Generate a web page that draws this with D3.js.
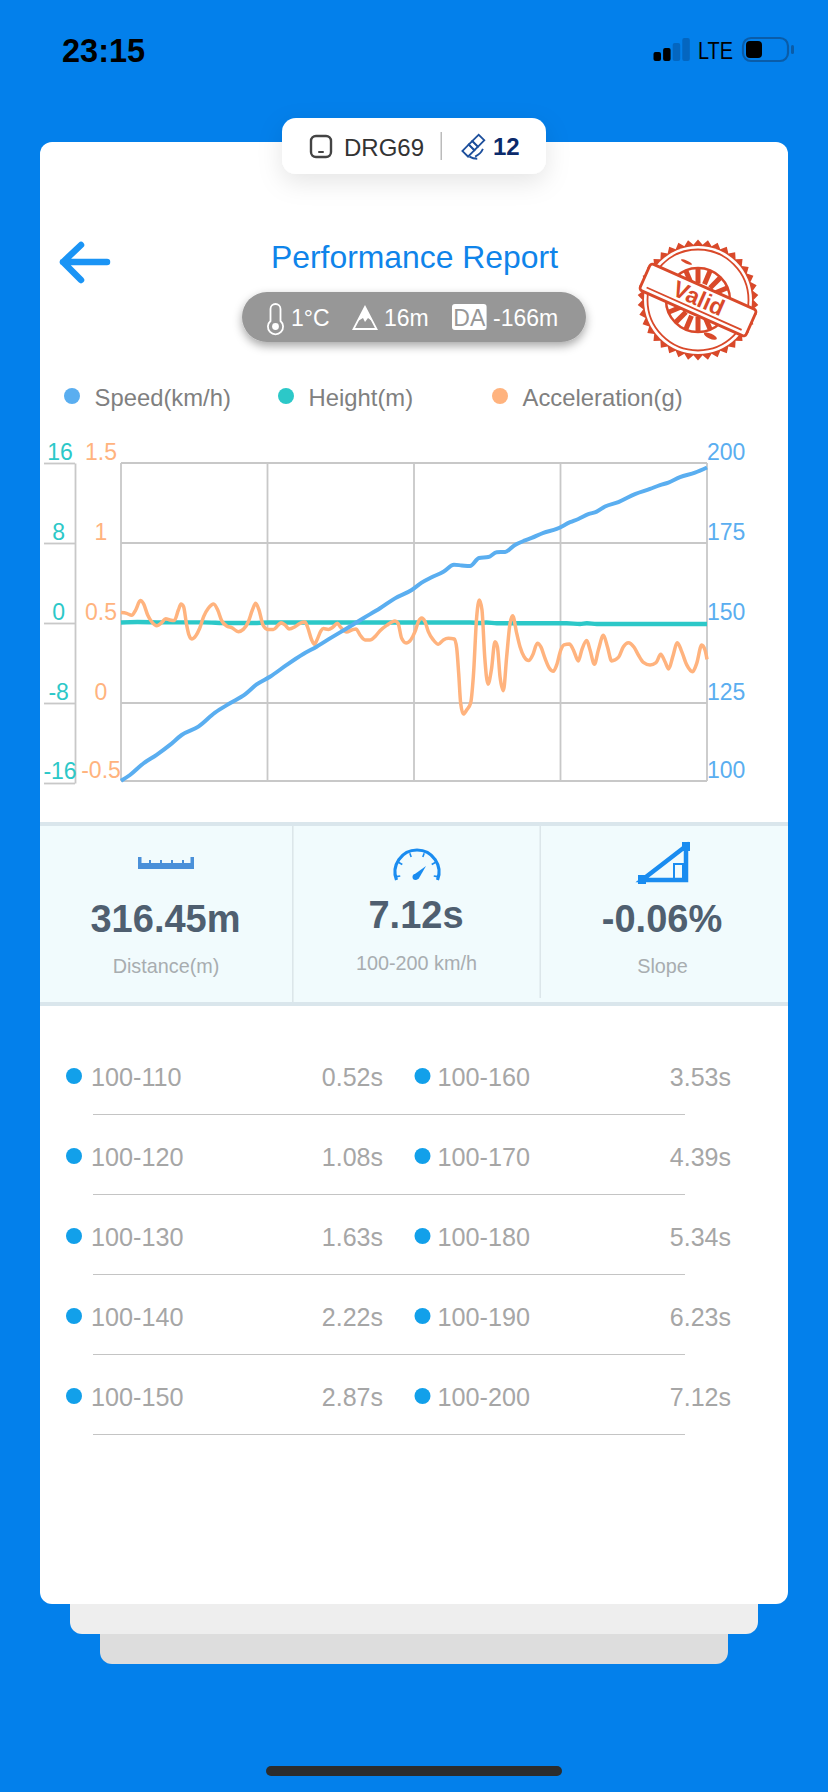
<!DOCTYPE html>
<html>
<head>
<meta charset="utf-8">
<title>Performance Report</title>
<script src="https://cdn.jsdelivr.net/npm/d3@7"></script>
<style>
  html, body { margin: 0; padding: 0; background: #0380eb; }
  svg { display: block; font-family: "Liberation Sans", Arial, sans-serif; }
</style>
</head>
<body>
<svg id="screen" width="828" height="1792"></svg>
<script>
// time (s) against speed (km/h)
const speedTimes = [0, .109, .271, .433, .595, .737, .94, 1.142, 1.324, 1.507, 1.648, 1.81, 2.013, 2.215, 2.377, 2.56, 2.742, 2.944, 3.147, 3.329, 3.532, 3.653, 3.775, 3.917, 4.046, 4.139, 4.241, 4.35, 4.463, 4.565, 4.666, 4.787, 4.909, 4.99, 5.132, 5.294, 5.456, 5.557, 5.678, 5.78, 5.881, 6.043, 6.245, 6.428, 6.549, 6.651, 6.792, 6.974, 7.12];
const speedValues = [100.7, 102.5, 106.1, 108.8, 111.9, 115, 117.6, 122, 124.9, 127.7, 130.8, 133.2, 136.9, 140.3, 142.6, 145.5, 148.3, 151.5, 154.6, 157.7, 160.3, 162.6, 164.3, 166, 168.2, 168, 167.8, 170.3, 170.6, 172.1, 172.2, 174.4, 175.8, 176.6, 178.2, 179.4, 181.5, 182.5, 184, 184.8, 186.4, 187.8, 190.3, 191.9, 193.1, 193.9, 195.6, 197, 198.6];

// time (s) against height (m)
const heightTimes = [0, .2, .5, 1, 1.3, 1.6, 1.8, 4.24, 4.36, 4.44, 4.565, 5.415, 5.577, 5.66, 5.78, 7.12];
const heightValues = [.05, .1, .06, .06, 0, 0, .05, .05, 0, .05, -.03, -.03, -.1, -.03, -.1, -.1];

// time (s) against acceleration (g)
const accelTimes = [0, .069, .13, .178, .235, .275, .324, .373, .437, .494, .543, .595, .648, .697, .729, .761, .794, .826, .859, .907, .956, 1.004, 1.061, 1.126, 1.175, 1.223, 1.284, 1.345, 1.426, 1.486, 1.547, 1.596, 1.636, 1.677, 1.725, 1.782, 1.851, 1.912, 1.944, 1.993, 2.041, 2.114, 2.175, 2.236, 2.268, 2.317, 2.349, 2.381, 2.43, 2.459, 2.519, 2.572, 2.629, 2.669, 2.742, 2.803, 2.855, 2.904, 2.965, 3.026, 3.086, 3.147, 3.228, 3.329, 3.366, 3.41, 3.463, 3.52, 3.572, 3.613, 3.653, 3.694, 3.734, 3.795, 3.856, 3.917, 3.977, 4.05, 4.079, 4.103, 4.127, 4.16, 4.2, 4.249, 4.281, 4.322, 4.354, 4.386, 4.419, 4.459, 4.5, 4.544, 4.573, 4.605, 4.646, 4.686, 4.727, 4.759, 4.808, 4.848, 4.897, 4.954, 5.002, 5.059, 5.1, 5.152, 5.205, 5.253, 5.294, 5.343, 5.383, 5.448, 5.497, 5.557, 5.598, 5.659, 5.699, 5.752, 5.8, 5.861, 5.91, 5.962, 6.043, 6.104, 6.165, 6.234, 6.286, 6.347, 6.428, 6.501, 6.558, 6.61, 6.655, 6.704, 6.76, 6.813, 6.874, 6.946, 6.995, 7.056, 7.096, 7.12];
const accelValues = [.565, .56, .548, .581, .64, .619, .55, .508, .483, .502, .527, .519, .515, .581, .619, .602, .498, .425, .4, .419, .467, .54, .592, .619, .581, .515, .481, .471, .446, .46, .508, .581, .623, .581, .488, .46, .46, .488, .502, .488, .463, .477, .498, .506, .473, .394, .367, .394, .452, .465, .46, .473, .498, .473, .444, .456, .463, .425, .394, .394, .415, .452, .485, .512, .498, .404, .375, .394, .446, .508, .531, .508, .446, .394, .367, .394, .404, .4, .342, .185, -.002, -.069, -.044, .002, .165, .54, .644, .581, .29, .117, .206, .383, .352, .165, .077, .29, .498, .546, .435, .352, .29, .265, .3, .373, .352, .279, .217, .198, .238, .331, .363, .369, .331, .263, .331, .39, .331, .242, .331, .423, .352, .263, .285, .352, .377, .348, .3, .254, .238, .252, .304, .258, .213, .29, .377, .321, .238, .196, .248, .363, .331, .273];

const timeTicks = [0, 1.78, 3.56, 5.34, 7.12];
const speedTicks = [100, 125, 150, 175, 200];
const heightTicks = [-16, -8, 0, 8, 16];
const accelTicks = [-0.5, 0, 0.5, 1, 1.5];

const legendNames = ['Speed(km/h)', 'Height(m)', 'Acceleration(g)'];
const legendColors = ['#5aaef0', '#2cc8c8', '#ffb37e'];

const statValues = ['316.45m', '7.12s', '-0.06%'];
const statLabels = ['Distance(m)', '100-200 km/h', 'Slope'];

const splitNamesLeft = ['100-110', '100-120', '100-130', '100-140', '100-150'];
const splitTimesLeft = ['0.52s', '1.08s', '1.63s', '2.22s', '2.87s'];
const splitNamesRight = ['100-160', '100-170', '100-180', '100-190', '100-200'];
const splitTimesRight = ['3.53s', '4.39s', '5.34s', '6.23s', '7.12s'];

const signalBars = [9, 13, 18, 23];

const svg = d3.select('#screen');
const defs = svg.append('defs');

function shadow(id, dy, blur, opacity) {
  defs.append('filter').attr('id', id)
    .attr('x', '-30%').attr('y', '-50%').attr('width', '160%').attr('height', '260%')
    .append('feDropShadow')
    .attr('dx', 0).attr('dy', dy).attr('stdDeviation', blur)
    .attr('flood-color', '#000').attr('flood-opacity', opacity);
}
shadow('pillShadow', 8, 12, 0.1);
shadow('greyShadow', 4, 5, 0.35);

function box(x0, y0, x1, y1, r, fill) {
  return svg.append('rect')
    .attr('x', x0).attr('y', y0)
    .attr('width', x1 - x0).attr('height', y1 - y0)
    .attr('rx', r).attr('fill', fill);
}

function label(parent, x, y, str, size, fill, anchor, weight) {
  return parent.append('text')
    .attr('x', x).attr('y', y)
    .attr('font-size', size).attr('fill', fill)
    .attr('text-anchor', anchor || 'start')
    .attr('font-weight', weight || 'normal')
    .text(str);
}

// status bar
label(svg, 62, 61.5, '23:15', 32.5, '#000', 'start', 'bold');
svg.selectAll('.signal').data(signalBars).enter().append('rect')
  .attr('class', 'signal')
  .attr('x', (d, i) => 653.5 + i * 9.6).attr('y', d => 61 - d)
  .attr('width', 7.5).attr('height', d => d).attr('rx', 2)
  .attr('fill', (d, i) => i < 2 ? '#000' : '#0466c0');
label(svg, 698, 59, 'LTE', 23, '#000').attr('textLength', 35).attr('lengthAdjust', 'spacingAndGlyphs');
box(743, 38, 788, 61, 8, 'none').attr('stroke', '#0a5ca8').attr('stroke-width', 2.2);
box(746, 41, 762, 58, 4, '#000');
box(791, 45, 794, 54, 1.5, '#0a5ca8');

// stacked cards
box(100, 1600, 728, 1664, 12, '#dddddd');
box(70, 1570, 758, 1634, 12, '#eeeeee');
box(40, 142, 788, 1604, 12, '#fff');
box(266, 1766, 562, 1776, 5, '#2c2c2c');

// device pill
box(282, 118, 546, 174, 14, '#fff').attr('filter', 'url(#pillShadow)');
box(311, 136, 331, 157, 5, 'none').attr('stroke', '#444').attr('stroke-width', 2.4);
box(318, 151, 324, 153, 1, '#444');
label(svg, 344, 156, 'DRG69', 24, '#333');
box(440.5, 132, 442, 160, 0, '#bbb');
const sat = svg.append('g').attr('transform', 'translate(473,146) rotate(45)')
  .attr('fill', 'none').attr('stroke', '#1d4f9c').attr('stroke-width', 1.8);
sat.append('rect').attr('x', -4).attr('y', -12).attr('width', 8).attr('height', 9);
sat.append('rect').attr('x', -4).attr('y', 2).attr('width', 8).attr('height', 9);
sat.append('path').attr('d', 'M-4 -3H4V2H-4Z M9 -5Q11 0 9 6 M5 10Q9 9 12 6');
label(svg, 493, 155, '12', 24, '#0b2a6b', 'start', 'bold');

// header
svg.append('path')
  .attr('d', 'M81 245L63 262L81 280M63 262H107')
  .attr('fill', 'none').attr('stroke', '#1a94f5').attr('stroke-width', 6.5)
  .attr('stroke-linecap', 'round').attr('stroke-linejoin', 'round');
label(svg, 414.5, 268, 'Performance Report', 31.9, '#0f84ea', 'middle');

// conditions pill
box(242, 292, 586, 342, 25, '#979797').attr('filter', 'url(#greyShadow)');
svg.append('path')
  .attr('d', 'M270.5 321V309a5 5 0 0 1 10 0V321a7.6 7.6 0 1 1 -10 0Z')
  .attr('fill', 'none').attr('stroke', '#fff').attr('stroke-width', 1.8);
svg.append('circle').attr('cx', 275.5).attr('cy', 326.5).attr('r', 3.4).attr('fill', '#fff');
label(svg, 291, 326, '1°C', 23, '#fff');
svg.append('path').attr('d', 'M365 307L353.5 329H376.5Z')
  .attr('fill', 'none').attr('stroke', '#fff').attr('stroke-width', 1.8);
svg.append('path').attr('d', 'M365 307L358 321L363 318L365 322L368 318L372 321Z').attr('fill', '#fff');
label(svg, 384, 326, '16m', 23, '#fff');
box(452, 304, 486.6, 330, 3, '#fff');
label(svg, 469.3, 326, 'DA', 23, '#979797', 'middle');
label(svg, 493, 326, '-166m', 23, '#fff');

// stamp
const stampRed = '#d9492a';
const stamp = svg.append('g').attr('transform', 'translate(698,300)');
const teeth = d3.range(76).map(i => [i * Math.PI / 38, i % 2 ? 55.5 : 60.5]);
stamp.append('path')
  .attr('d', d3.lineRadial().curve(d3.curveLinearClosed)(teeth))
  .attr('fill', stampRed);
stamp.append('circle').attr('r', 54).attr('fill', '#fff');
stamp.append('circle').attr('r', 50.5).attr('fill', 'none').attr('stroke', stampRed).attr('stroke-width', 1.8);
stamp.append('circle').attr('r', 32).attr('fill', 'none').attr('stroke', stampRed).attr('stroke-width', 2.5);
stamp.selectAll('.ray').data(d3.range(16)).enter().append('line')
  .attr('class', 'ray')
  .attr('x1', d => 17 * Math.cos(d * Math.PI / 8)).attr('y1', d => 17 * Math.sin(d * Math.PI / 8))
  .attr('x2', d => 32 * Math.cos(d * Math.PI / 8)).attr('y2', d => 32 * Math.sin(d * Math.PI / 8))
  .attr('stroke', stampRed).attr('stroke-width', 5);
const smudges = [[-38, -6, 7, 2.5], [-44, 1, 5, 2], [-30, 12, 6, 2], [38, -10, 8, 2.5], [44, -2, 5, 2], [26, 28, 7, 2.5], [-26, -30, 6, 1.5]];
stamp.selectAll('.smudge').data(smudges).enter().append('ellipse')
  .attr('class', 'smudge')
  .attr('cx', d => d[0]).attr('cy', d => d[1]).attr('rx', d => d[2]).attr('ry', d => d[3])
  .attr('transform', 'rotate(24)').attr('fill', stampRed);
const banner = stamp.append('g').attr('transform', 'rotate(24)');
banner.append('rect').attr('x', -58).attr('y', -14.5).attr('width', 116).attr('height', 29).attr('rx', 3)
  .attr('fill', '#fff').attr('stroke', stampRed).attr('stroke-width', 2.8);
banner.append('line').attr('x1', -52).attr('x2', 52).attr('y1', 9.5).attr('y2', 9.5)
  .attr('stroke', stampRed).attr('stroke-width', 1.8);
label(banner, 0, 6, 'Valid', 23, stampRed, 'middle', 'bold');

// legend
const legendX = [72, 286, 500];
const legend = svg.selectAll('.legend').data(legendNames).enter().append('g')
  .attr('class', 'legend')
  .attr('transform', (d, i) => `translate(${legendX[i]},396)`);
legend.append('circle').attr('r', 8).attr('fill', (d, i) => legendColors[i]);
legend.append('text').attr('x', 22.6).attr('y', 10)
  .attr('font-size', 23.8).attr('fill', '#808080').text(d => d);

// chart
const plotLeft = 121, plotRight = 707, plotTop = 463, plotBottom = 781, gridBottom = 783;
const gridColor = '#c8c8c8';
const axisFontSize = 23;

const x = d3.scaleLinear().domain([0, 7.12]).range([plotLeft, plotRight]);
const speedY = d3.scaleLinear().domain([100, 200]).range([gridBottom, plotTop]);
const heightY = d3.scaleLinear().domain([-16, 16]).range([gridBottom, plotTop]);
const accelY = d3.scaleLinear().domain([-0.5, 1.5]).range([gridBottom, plotTop]);

function styleAxis(g, color) {
  g.selectAll('text')
    .attr('font-family', '"Liberation Sans", Arial, sans-serif')
    .attr('font-size', axisFontSize).attr('fill', color);
  g.attr('font-family', null).attr('font-size', null);
}

// the lowest labels sit on the frame, a little above the scale's own bottom
const liftLabel = (bottomTick, extra) => d => (d === bottomTick ? extra : -10.5);

const grid = svg.append('g').attr('stroke', gridColor).attr('stroke-width', 1.8).attr('fill', 'none');
grid.selectAll('.hgrid').data(speedTicks.slice(1)).enter().append('line')
  .attr('class', 'hgrid')
  .attr('x1', plotLeft).attr('x2', plotRight)
  .attr('y1', d => speedY(d)).attr('y2', d => speedY(d));
grid.append('line').attr('x1', plotLeft).attr('x2', plotRight).attr('y1', plotBottom).attr('y2', plotBottom);
grid.selectAll('.vgrid').data(timeTicks).enter().append('line')
  .attr('class', 'vgrid')
  .attr('x1', d => x(d)).attr('x2', d => x(d))
  .attr('y1', plotTop).attr('y2', plotBottom);

const heightAxis = svg.append('g').attr('transform', 'translate(75,0)')
  .call(d3.axisLeft(heightY).tickValues(heightTicks).tickSize(31).tickSizeOuter(0).tickFormat(d => d));
heightAxis.selectAll('path,line').attr('stroke', gridColor).attr('stroke-width', 1.8);
heightAxis.selectAll('text').attr('text-anchor', 'middle')
  .attr('x', d => (Math.abs(d) === 16 ? -15 : -16.4))
  .attr('y', liftLabel(-16, -11.5));
styleAxis(heightAxis, '#2cc8c8');

const accelAxis = svg.append('g').attr('transform', 'translate(101,0)')
  .call(d3.axisLeft(accelY).tickValues(accelTicks).tickSize(0).tickFormat(d => d));
accelAxis.select('.domain').remove();
accelAxis.selectAll('text').attr('text-anchor', 'middle').attr('x', 0)
  .attr('y', liftLabel(-0.5, -13));
styleAxis(accelAxis, '#ffb37e');

const speedAxis = svg.append('g').attr('transform', `translate(${plotRight},0)`)
  .call(d3.axisRight(speedY).tickValues(speedTicks).tickSize(0).tickPadding(0));
speedAxis.select('.domain').remove();
speedAxis.selectAll('text').attr('x', 0)
  .attr('y', liftLabel(100, -13));
styleAxis(speedAxis, '#5aaef0');

function drawSeries(times, values, scale, curve, color, width) {
  const line = d3.line()
    .x((d, i) => x(times[i]))
    .y(d => scale(d))
    .curve(curve);
  svg.append('path').datum(values)
    .attr('d', line)
    .attr('fill', 'none')
    .attr('stroke', color)
    .attr('stroke-width', width)
    .attr('stroke-linejoin', 'round');
}
drawSeries(heightTimes, heightValues, heightY, d3.curveMonotoneX, '#2cc8c8', 4.4);
drawSeries(accelTimes, accelValues, accelY, d3.curveMonotoneX, '#ffb37e', 3.5);
drawSeries(speedTimes, speedValues, speedY, d3.curveMonotoneX, '#5aaef0', 4);

// stats panel
box(40, 822, 788, 1006, 0, '#f1fbfd');
box(40, 822, 788, 826, 0, '#dae6ec');
box(40, 1002, 788, 1006, 0, '#dae6ec');
box(292, 826, 293.6, 1002, 0, '#dce6ea');
box(539.5, 826, 541, 998, 0, '#dce6ea');

const statX = [165.5, 416, 662], statBase = [932, 928, 932], labelBase = [973, 970, 973];
statValues.forEach((d, i) => {
  label(svg, statX[i], statBase[i], d, 38, '#4f5f70', 'middle', 'bold');
  label(svg, statX[i] + 0.5, labelBase[i], statLabels[i], 19.8, '#a8adb0', 'middle');
});

// ruler icon
const ruler = '#4a90d9';
box(138, 863, 194, 869, 0, ruler);
box(138, 857, 141.5, 864, 0, ruler);
box(190.5, 857, 194, 864, 0, ruler);
[149, 160, 171, 182].forEach(tx => box(tx, 860, tx + 2, 864, 0, ruler));

// gauge icon
const iconBlue = '#1a8cf0';
svg.append('path').attr('d', 'M396.5 880A22 22 0 1 1 437.5 880')
  .attr('fill', 'none').attr('stroke', iconBlue).attr('stroke-width', 3.2);
d3.range(-100, 101, 40).forEach(a => {
  const r = a * Math.PI / 180;
  svg.append('line')
    .attr('x1', 417 + 21 * Math.sin(r)).attr('y1', 873 - 21 * Math.cos(r))
    .attr('x2', 417 + 17 * Math.sin(r)).attr('y2', 873 - 17 * Math.cos(r))
    .attr('stroke', iconBlue).attr('stroke-width', 1.6);
});
svg.append('path').attr('d', 'M413.5 875L426 866L418.5 879Z').attr('fill', iconBlue);
svg.append('circle').attr('cx', 415.5).attr('cy', 877).attr('r', 3).attr('fill', iconBlue);

// slope icon
svg.append('path').attr('d', 'M642 880L686 846V880Z')
  .attr('fill', 'none').attr('stroke', iconBlue).attr('stroke-width', 4.5);
box(638, 875, 646, 884, 0, iconBlue);
box(682, 842, 690, 851, 0, iconBlue);
box(674, 864, 683, 879, 0, 'none').attr('stroke', iconBlue).attr('stroke-width', 2);

// split table
const rowY = d3.scalePoint().domain(d3.range(5)).range([1086, 1406]);
function splitColumn(names, times, dotX, textX, timeX) {
  names.forEach((d, i) => {
    svg.append('circle').attr('cx', dotX).attr('cy', rowY(i) - 10).attr('r', 8).attr('fill', '#12a0ea');
    label(svg, textX, rowY(i), d, 25.2, '#a6a6a6');
    label(svg, timeX, rowY(i), times[i], 25, '#a6a6a6', 'end');
  });
}
splitColumn(splitNamesLeft, splitTimesLeft, 74, 91, 383);
splitColumn(splitNamesRight, splitTimesRight, 422.5, 437.5, 731);
d3.range(5).forEach(i => {
  box(93, rowY(i) + 28, 685, rowY(i) + 29, 0, '#c4c4c4');
});
</script>
</body>
</html>
